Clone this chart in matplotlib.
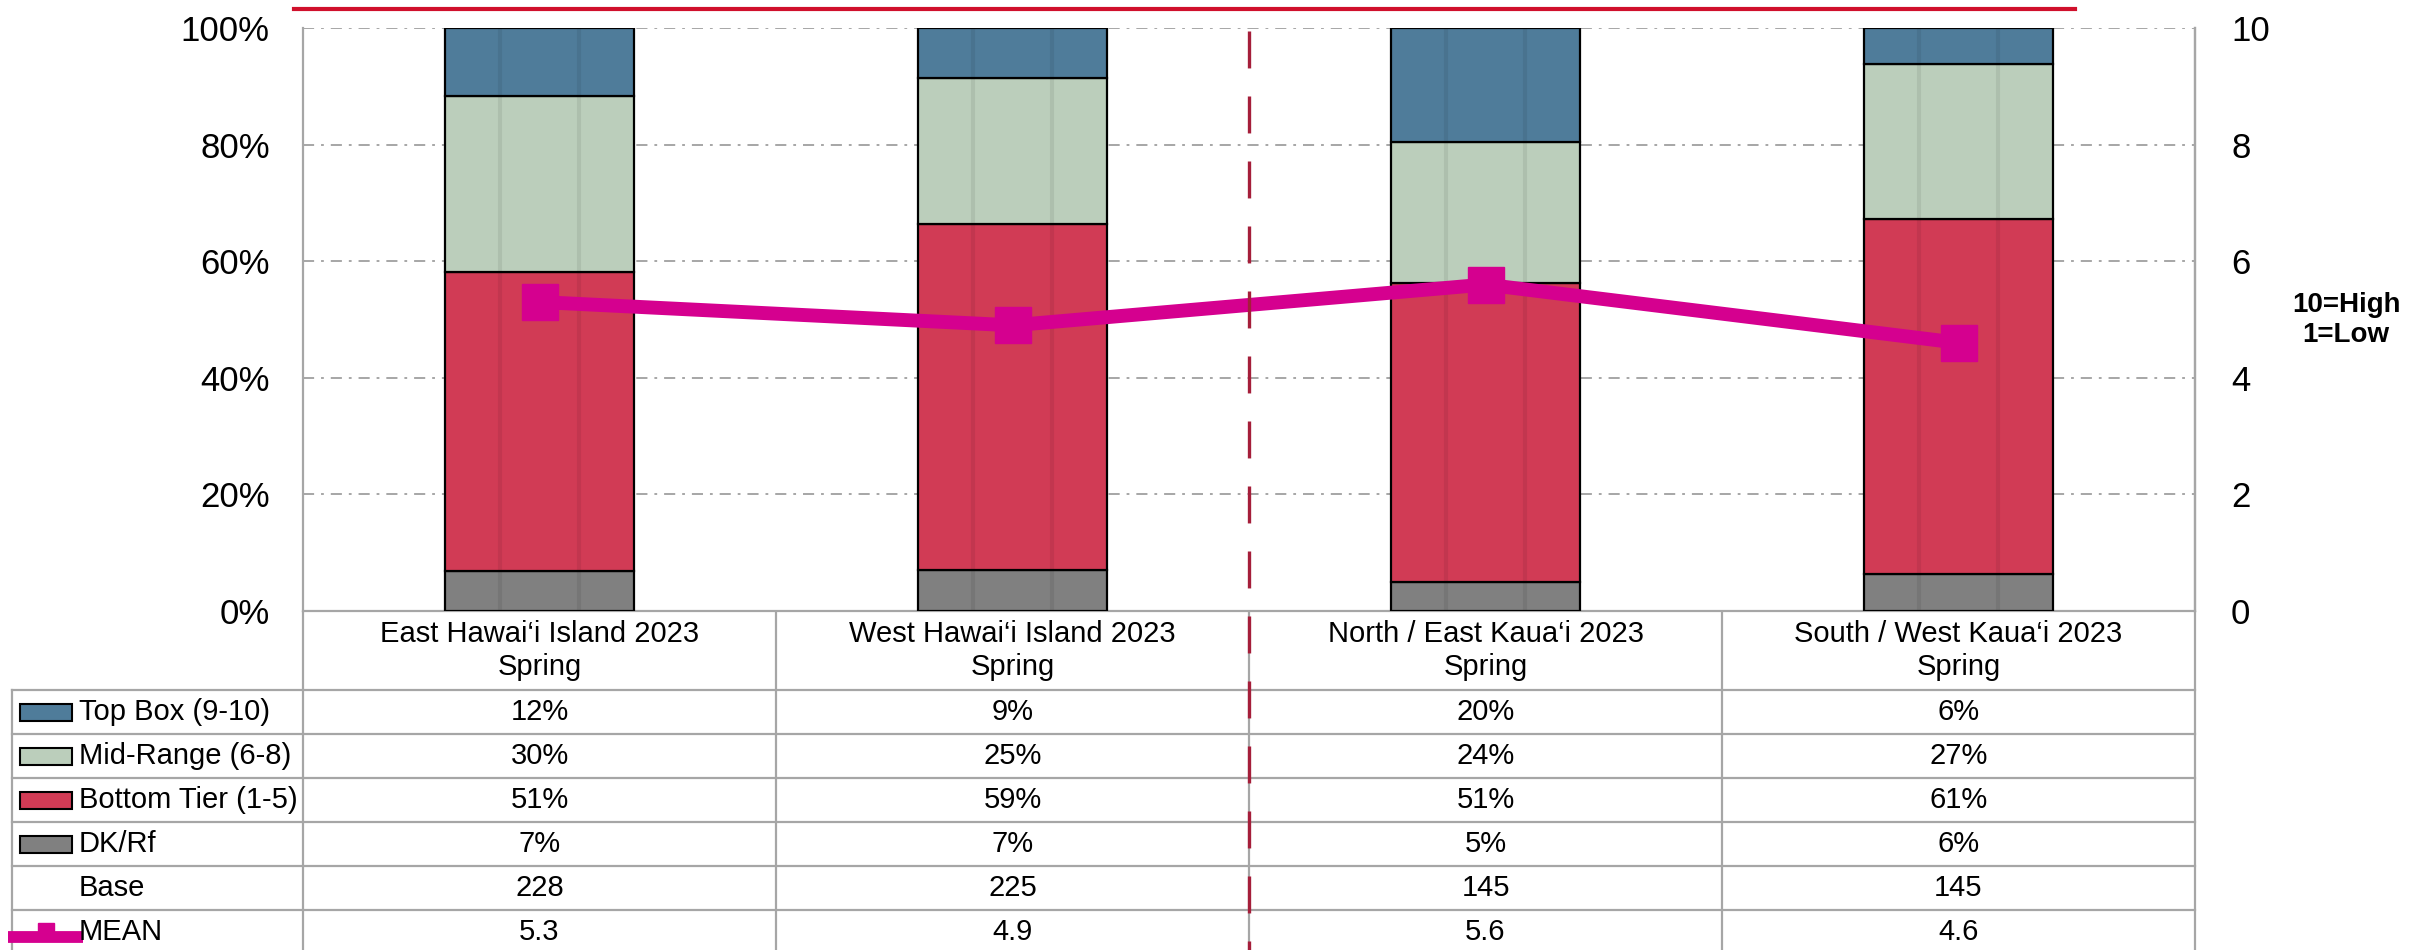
import matplotlib.pyplot as plt
from matplotlib.lines import Line2D
from matplotlib.patches import Rectangle
import numpy as np

plt.rcParams['font.family'] = ['Liberation Sans', 'DejaVu Sans']
plt.rcParams['lines.scale_dashes'] = False

# data
regions = ['East Hawai\u2018i Island 2023\nSpring', 'West Hawai\u2018i Island 2023\nSpring',
           'North / East Kaua\u2018i 2023\nSpring', 'South / West Kaua\u2018i 2023\nSpring']
dk_rf = [6.8, 7.0, 4.9, 6.4]
bottom_tier = [51.4, 59.4, 51.4, 60.8]
mid_range = [30.1, 25.0, 24.1, 26.7]
top_box = [11.7, 8.6, 19.6, 6.1]
base = [228, 225, 145, 145]
mean = [5.3, 4.9, 5.6, 4.6]

c_top, c_mid, c_bot, c_dk = '#4F7C9A', '#BBCEBB', '#D13B55', '#808080'
c_mean = '#D5008F'
grey = '#A6A6A6'

W, H = 2422, 950
fig = plt.figure(figsize=(W / 100, H / 100), dpi=100)
L, R, T, B = 303, 2195, 28, 611
ax = fig.add_axes([L / W, 1 - B / H, (R - L) / W, (B - T) / H])

x = np.arange(len(regions))
bottom = np.zeros(len(regions))
for vals, col in [(dk_rf, c_dk), (bottom_tier, c_bot), (mid_range, c_mid), (top_box, c_top)]:
    bars = ax.bar(x, vals, 0.4, bottom=bottom, color=col, edgecolor='black', linewidth=1.6, zorder=3)
    # faint vertical shading inside each bar
    for p in bars:
        for f in (0.29, 0.71):
            xx = p.get_x() + f * p.get_width()
            ax.plot([xx, xx], [p.get_y(), p.get_y() + p.get_height()], color='black',
                    alpha=0.07, lw=3, zorder=3.5, solid_capstyle='butt')
    bottom += np.array(vals)

ax.set_xlim(-0.5, 3.5)
ax.set_ylim(0, 100)
ax.set_yticks(range(0, 101, 20))
ax.set_yticklabels([f'{v}%' for v in range(0, 101, 20)], fontsize=25)
ax.tick_params(axis='y', length=0, pad=24)
ax.set_xticks([])
ax.spines['top'].set_visible(False)
for s in ['left', 'right', 'bottom']:
    ax.spines[s].set_color(grey)
    ax.spines[s].set_linewidth(1.6)
ax.yaxis.grid(True, color=grey, lw=1.4, ls=(0, (8, 5, 2, 5)))
ax.set_axisbelow(True)

ax2 = ax.twinx()
ax2.plot(x, mean, color=c_mean, lw=10, marker='s', ms=26, zorder=5)
ax2.set_ylim(0, 10)
ax2.set_yticks(range(0, 11, 2))
ax2.set_yticklabels([str(v) for v in range(0, 11, 2)], fontsize=25)
ax2.tick_params(axis='y', length=0, pad=26)
for s in ['top', 'left', 'bottom']:
    ax2.spines[s].set_visible(False)
ax2.spines['right'].set_color(grey)
ax2.spines['right'].set_linewidth(1.6)

fig.text(2346 / W, 1 - 320 / H, '10=High\n1=Low', ha='center', va='center',
         fontsize=20, fontweight='bold', linespacing=1.2)

# top red rule
fig.add_artist(Line2D([294 / W, 2075 / W], [1 - 9 / H] * 2, color='#D0102C', lw=3))

# data table below the chart
tax = fig.add_axes([0, 0, 1, (H - B) / H])
tax.set_xlim(0, W)
tax.set_ylim(H - B, 0)
tax.axis('off')
colw = (R - L) / len(regions)
edges = [L + colw * i for i in range(len(regions) + 1)]
hdr, rowh = 79, 44
nrows = 6
for k in range(nrows):
    tax.plot([12, R], [hdr + rowh * k] * 2, color=grey, lw=1.6)
tax.plot([12, 12], [hdr, H - B], color=grey, lw=1.6)
for e in edges:
    tax.plot([e, e], [0, H - B], color=grey, lw=1.6)

for i, name in enumerate(regions):
    tax.text(edges[i] + colw / 2, hdr / 2, name, ha='center', va='center', fontsize=21, linespacing=1.2)

rows = [('Top Box (9-10)', [f'{v:.0f}%' for v in top_box], c_top),
        ('Mid-Range (6-8)', [f'{v:.0f}%' for v in mid_range], c_mid),
        ('Bottom Tier (1-5)', [f'{v:.0f}%' for v in bottom_tier], c_bot),
        ('DK/Rf', [f'{v:.0f}%' for v in dk_rf], c_dk),
        ('Base', [str(v) for v in base], None),
        ('MEAN', [f'{v:.1f}' for v in mean], 'line')]
for k, (label, cells, key) in enumerate(rows):
    yc = hdr + rowh * (k + 0.5)
    tax.text(79, yc, label, ha='left', va='center', fontsize=21)
    for i, c in enumerate(cells):
        tax.text(edges[i] + colw / 2, yc, c, ha='center', va='center', fontsize=21)
    if key == 'line':
        tax.plot([8, 83], [yc + 5, yc + 5], color=c_mean, lw=8.5, solid_capstyle='butt')
        tax.plot([45.5], [yc - 1.5], marker='s', ms=11, color=c_mean)
    elif key:
        tax.add_patch(Rectangle((20, yc - 8.5), 52, 17, facecolor=key, edgecolor='black', lw=1.5))

# dashed red divider between the two islands
xd = (L + colw * 2) / W
fig.add_artist(Line2D([xd, xd], [1 - 31 / H, 0], color='#A51E3A', lw=2.4, dashes=(26.6, 20.2)))

fig.savefig('out.png', dpi=100)
